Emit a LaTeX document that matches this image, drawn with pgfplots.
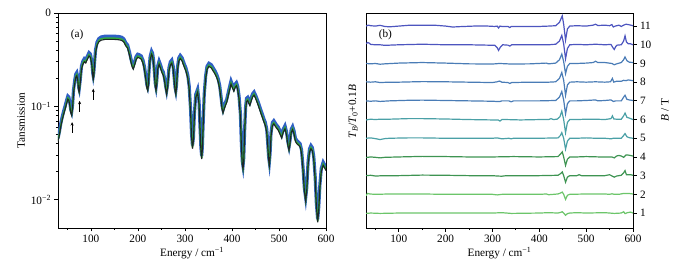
\documentclass[border=0pt]{standalone}
\usepackage{pgfplots}
\pgfplotsset{compat=1.18}
\usepackage{pgfplotstable}
\usetikzlibrary{arrows.meta}
\usepackage{fontspec}
\setmainfont{Liberation Serif}
\definecolor{cblue}{HTML}{2F5FC4}
\definecolor{cgreen}{HTML}{2FAE3A}
\definecolor{cdark}{HTML}{1E2626}
\definecolor{tA}{HTML}{4D55BF}
\definecolor{tB}{HTML}{4A7CB6}
\definecolor{tC}{HTML}{4AA0A6}
\definecolor{tD}{HTML}{3E9452}
\definecolor{tE}{HTML}{6CC56A}
\pgfplotstableread{
E T
30 0.044
33 0.052
36 0.064
39 0.075
42 0.086
45 0.097
48 0.111
51 0.125
53 0.122
55 0.108
57 0.090
59 0.084
61 0.100
63 0.145
66 0.190
68 0.215
70 0.223
72 0.200
74 0.155
75 0.148
77 0.180
80 0.262
83 0.295
86 0.314
89 0.305
92 0.330
96 0.363
99 0.350
102 0.290
104 0.220
105 0.205
106 0.220
108 0.300
110 0.394
113 0.470
117 0.515
122 0.535
130 0.545
140 0.545
150 0.545
160 0.540
166 0.530
170 0.510
174 0.465
178 0.440
182 0.370
185 0.315
188 0.275
190 0.262
193 0.290
196 0.330
199.5 0.350
203 0.345
207 0.335
211 0.300
214 0.255
217 0.200
219 0.165
220.7 0.155
222 0.170
224 0.250
226 0.330
229 0.378
231 0.360
233 0.310
235 0.230
237 0.170
238.5 0.155
240 0.180
242 0.260
245 0.296
248 0.270
251 0.240
254 0.225
257 0.190
259 0.160
261 0.142
263 0.165
266 0.250
269 0.290
272 0.303
275 0.260
277 0.200
279 0.155
280.5 0.142
282 0.165
284 0.250
287 0.320
290 0.340
294 0.320
298 0.280
302 0.250
306 0.210
309 0.160
312 0.090
314 0.050
316 0.0369
318 0.045
320 0.080
323 0.130
327 0.148
330 0.110
332 0.060
334 0.035
335.6 0.0285
337 0.036
339 0.070
341 0.130
344 0.205
347 0.260
351 0.280
356 0.270
360 0.250
364 0.232
368 0.210
371 0.189
374 0.160
377 0.120
379 0.098
381 0.089
384 0.100
389 0.116
394 0.150
398 0.181
401 0.165
404 0.152
407 0.168
409.5 0.174
412 0.160
415 0.126
418 0.080
420 0.040
422 0.025
423.5 0.0223
425 0.027
427 0.055
429 0.095
431 0.118
433.5 0.121
436 0.112
438 0.107
441 0.120
444 0.132
447 0.138
451 0.125
456 0.107
460 0.093
464.5 0.080
468 0.071
471 0.065
474 0.055
476 0.040
478 0.028
479.5 0.0245
481 0.030
483 0.050
486 0.065
489 0.068
494 0.062
498.6 0.058
502 0.053
505.7 0.048
509 0.055
512.8 0.060
516 0.052
519 0.040
521.3 0.0355
523 0.040
526 0.055
529 0.059
532 0.053
535 0.044
538 0.0417
542 0.040
545 0.0385
548 0.033
551 0.022
554 0.013
556.8 0.0102
559 0.013
562 0.025
565 0.034
568 0.0369
571 0.035
574 0.028
577 0.017
579.5 0.009
582.3 0.0060
584.5 0.008
587 0.014
590 0.021
594 0.0245
597 0.023
600 0.0215
}\transdata
\begin{document}
\begin{tikzpicture}
\path (0,0) rectangle (683bp,270bp);
\pgfplotsset{
  every axis/.append style={
    scale only axis,
    font=\fontsize{11.3}{13}\selectfont,
    tick label style={font=\fontsize{11.3}{13}\selectfont},
    /pgf/number format/assume math mode=true,
    axis line style={line width=0.9bp},
    every tick/.style={black, line width=0.8bp},
    major tick length=3.5bp,
    minor tick length=2bp,
    tick align=outside,
    xmin=30, xmax=600,
    xtick={100,200,...,600},
    minor xtick={50,150,...,550},
    xtick pos=bottom,
    clip mode=individual,
  }
}
% Panel (a)
\begin{axis}[
  at={(58bp,42bp)}, anchor=south west,
  width=268bp, height=215bp,
  ymode=log, ymin=0.005, ymax=1,
  ytick={0.01,0.1,1},
  yticklabels={10\textsuperscript{−2},10\textsuperscript{−1},0},
  ytick pos=left,
  xlabel={Energy / cm\textsuperscript{−1}},
  ylabel={Tansmission},
  xlabel style={yshift=2bp},
  ylabel style={yshift=-1bp},
]
\addplot[cblue, line width=3.2bp, yshift=1.4bp] table[x=E,y=T]{\transdata};
\addplot[cgreen, line width=1.6bp, yshift=-0.6bp] table[x=E,y=T]{\transdata};
\addplot[cdark, line width=1.1bp, yshift=-1.8bp] table[x=E,y=T]{\transdata};
\node[anchor=west] at (rel axis cs:0.035,0.9) {(a)};
\draw[-{Stealth[length=3.5bp,width=3bp]}, line width=0.8bp] (axis cs:60,0.052) -- (axis cs:60,0.068);
\draw[-{Stealth[length=3.5bp,width=3bp]}, line width=0.8bp] (axis cs:76,0.088) -- (axis cs:76,0.115);
\draw[-{Stealth[length=3.5bp,width=3bp]}, line width=0.8bp] (axis cs:105,0.118) -- (axis cs:105,0.155);
\end{axis}
% Panel (b)
\begin{axis}[
  at={(366bp,42bp)}, anchor=south west,
  width=267bp, height=215bp,
  ymin=0.2, ymax=11.7,
  ytick={1,...,11},
  ytick pos=right,
  yticklabel pos=right,
  xlabel={Energy / cm\textsuperscript{−1}},
  xlabel style={yshift=2bp},
  every axis plot/.append style={line width=1.2bp},
]
\addplot[tA] coordinates {(30,11.0) (35,11.05) (40,11.02) (50,11.0) (60,11.04) (70,10.98) (80,10.96) (100,11.0) (120,11.04) (150,11.05) (180,11.04) (200,11.0) (215,10.95) (230,10.97) (260,11.0) (290,11.0) (305,10.98) (310,11.0) (313,10.9) (316,11.0) (320,10.98) (333,10.98) (337,10.92) (340,10.98) (360,10.98) (400,10.98) (420,11.0) (435,11.02) (443,11.2) (449,11.55) (452,11.1) (456,10.25) (460,10.85) (465,11.0) (480,11.02) (500,11.0) (515,11.05) (520,11.1) (525,11.03) (540,11.05) (550,11.02) (555,11.08) (558,10.95) (562,11.0) (570,11.05) (575,10.98) (580,11.05) (585,11.1) (590,11.08) (600,11.02)};
\addplot[tA] coordinates {(30,10.05) (33,10.12) (36,10.1) (40,10.02) (50,10.0) (60,10.0) (70,9.97) (80,9.98) (100,10.0) (150,10.03) (200,10.0) (250,10.0) (290,9.98) (305,9.97) (310,9.85) (313,9.7) (317,9.88) (322,10.0) (333,9.98) (337,9.93) (341,10.0) (380,10.0) (420,10.0) (435,10.03) (443,10.2) (448,10.5) (452,10.05) (456,9.25) (460,9.8) (465,10.0) (480,10.02) (500,10.0) (520,10.03) (540,10.0) (553,10.02) (557,9.85) (560,9.75) (563,9.9) (566,9.98) (575,10.0) (580,10.2) (583,10.48) (586,10.15) (590,10.05) (595,10.05) (600,10.0)};
\addplot[tB] coordinates {(30,9.0) (40,8.98) (50,9.0) (60,8.96) (70,8.98) (100,9.02) (150,9.05) (200,9.02) (250,8.98) (300,8.97) (315,9.0) (340,8.97) (380,8.98) (415,9.02) (420,8.98) (435,9.02) (443,9.2) (448,9.5) (452,9.1) (456,8.45) (460,8.85) (465,9.0) (480,9.0) (500,9.02) (515,9.05) (520,9.12) (525,9.05) (540,9.05) (555,9.0) (560,8.93) (565,8.98) (575,9.05) (580,9.2) (583,9.35) (587,9.15) (592,9.07) (600,9.05)};
\addplot[tB] coordinates {(30,8.02) (40,8.0) (50,8.02) (60,7.98) (80,8.0) (100,8.0) (150,8.03) (200,8.02) (250,8.0) (300,7.98) (310,8.02) (315,8.06) (320,8.0) (333,7.98) (337,7.93) (341,7.98) (380,8.0) (420,8.0) (435,8.02) (443,8.2) (448,8.52) (452,8.1) (456,7.3) (460,7.85) (465,8.0) (480,8.02) (500,8.0) (520,8.02) (540,8.0) (552,8.02) (556,8.2) (559,8.0) (565,8.05) (575,8.05) (580,8.1) (585,8.08) (590,8.12) (600,8.08)};
\addplot[tB] coordinates {(30,7.0) (40,6.98) (50,7.0) (60,6.97) (80,7.0) (120,7.03) (150,7.04) (200,7.02) (250,7.0) (300,6.98) (315,6.96) (320,7.0) (335,7.0) (340,6.95) (345,7.0) (400,7.0) (435,7.02) (443,7.2) (448,7.5) (452,7.05) (456,6.3) (460,6.85) (465,7.0) (480,7.0) (500,7.02) (520,7.05) (525,7.0) (540,7.02) (553,7.05) (558,6.97) (563,7.0) (575,7.0) (580,7.2) (583,7.3) (587,7.08) (592,7.05) (600,7.02)};
\addplot[tC] coordinates {(30,5.98) (40,6.02) (50,6.0) (60,6.02) (80,6.02) (120,6.05) (150,6.05) (200,6.03) (250,6.0) (300,5.98) (312,5.98) (316,5.92) (320,6.0) (330,6.0) (360,5.98) (400,6.0) (420,6.0) (425,6.05) (430,6.0) (438,6.02) (444,6.15) (448,6.45) (452,6.0) (456,5.3) (460,5.85) (465,6.0) (480,6.0) (500,6.02) (520,6.02) (540,6.0) (553,6.05) (556,6.2) (559,6.03) (565,6.02) (575,6.02) (580,6.2) (583,6.35) (587,6.12) (592,6.08) (600,6.0)};
\addplot[tC] coordinates {(30,5.0) (40,5.02) (50,4.98) (60,4.93) (70,4.98) (80,5.0) (120,5.02) (150,5.02) (200,5.0) (250,5.0) (300,5.0) (310,5.02) (320,4.97) (335,5.0) (340,4.97) (345,5.0) (400,5.0) (440,5.02) (445,5.15) (448,5.3) (452,5.0) (456,4.42) (460,4.85) (465,5.0) (480,5.0) (500,5.02) (520,5.0) (540,5.0) (553,4.97) (558,5.0) (575,5.0) (580,5.15) (583,5.25) (587,5.08) (592,5.03) (600,5.0)};
\addplot[tD] coordinates {(30,3.97) (40,4.0) (50,3.98) (60,3.95) (70,3.98) (100,4.0) (150,4.03) (200,4.02) (250,4.0) (300,4.0) (345,4.02) (400,4.0) (440,4.02) (445,4.15) (449,4.27) (452,4.0) (456,3.55) (460,3.88) (465,4.0) (480,4.0) (500,4.02) (530,4.0) (555,4.0) (560,3.95) (565,4.05) (570,4.08) (575,4.05) (580,3.98) (585,4.1) (590,4.1) (600,4.05)};
\addplot[tD] coordinates {(30,3.0) (40,3.02) (50,2.98) (70,3.0) (100,3.0) (150,3.03) (200,3.02) (250,3.0) (300,3.0) (310,2.98) (320,2.97) (330,3.0) (400,3.0) (440,3.02) (446,3.12) (449,3.2) (452,3.0) (456,2.65) (460,2.92) (465,3.0) (480,3.0) (485,3.05) (490,3.0) (520,3.0) (540,3.0) (550,3.05) (560,2.92) (565,2.98) (575,3.02) (580,3.15) (583,3.27) (586,3.05) (595,3.05) (600,3.02)};
\addplot[tE] coordinates {(30,1.92) (33,2.05) (38,2.02) (50,2.0) (80,2.02) (100,2.02) (150,2.02) (200,2.0) (300,2.0) (310,1.97) (320,2.0) (400,2.0) (415,2.02) (420,1.98) (440,2.02) (446,2.08) (449,2.12) (452,2.0) (456,1.73) (460,1.95) (465,2.0) (500,2.02) (540,2.02) (550,2.0) (555,2.03) (560,2.0) (570,2.0) (580,2.05) (590,2.05) (600,2.02)};
\addplot[tE] coordinates {(30,0.98) (40,1.0) (60,0.98) (100,1.0) (150,1.0) (200,1.0) (300,1.0) (320,1.02) (340,0.98) (400,1.0) (420,1.02) (440,1.0) (446,1.04) (449,1.07) (452,1.0) (456,0.88) (460,0.97) (465,1.0) (480,1.02) (500,1.0) (540,1.02) (560,0.98) (575,1.0) (580,1.07) (583,0.97) (588,1.02) (595,1.05) (600,1.0)};
\node[anchor=west] at (rel axis cs:0.035,0.9) {(b)};
\node[rotate=90] at (rel axis cs:-0.048,0.54) {\textit{T}\textsubscript{\textit{B}}/\textit{T}\textsubscript{0}+0.1\textit{B}};
\node[rotate=90] at (rel axis cs:1.12,0.55) {\textit{B} / T};
\end{axis}
\end{tikzpicture}
\end{document}
